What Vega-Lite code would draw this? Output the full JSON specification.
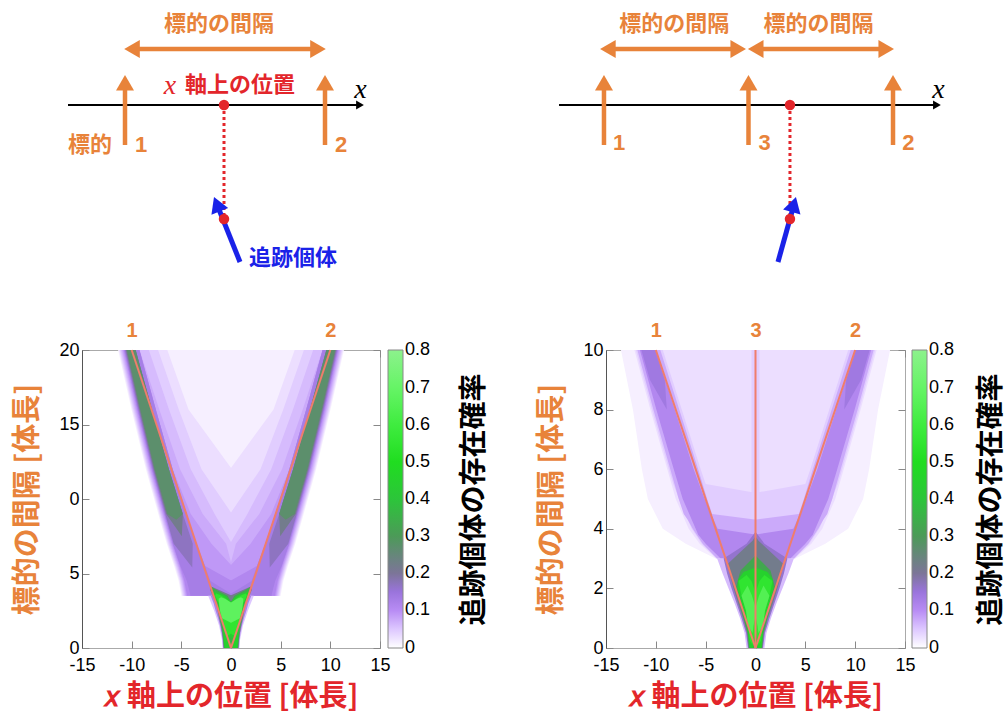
{
"$schema":"https://vega.github.io/schema/vega-lite/v6.json",
"background":"white",
"padding":{"left":13,"top":0,"right":0,"bottom":0},
"bounds":"flush",
"columns":2,
"spacing":{"row":60,"column":226},
"resolve":{"scale":{"x":"independent","y":"independent","color":"independent"}},
"config":{
 "axis":{"labelFont":"Liberation Sans","labelFontSize":18,"labelColor":"#000","tickColor":"#888","tickWidth":1,"grid":false,"domain":false,"titleFont":"Noto Sans CJK JP","titleFontWeight":"bold","titleFontSize":29,"labelFlush":false},
 "legend":{"gradientLength":298,"gradientThickness":15,"padding":0,"labelFont":"Liberation Sans","labelFontSize":18,"labelColor":"#000","labelOffset":4,"labelOverlap":false,"gradientStrokeColor":"#888","gradientStrokeWidth":1}
},
"datasets":{
"sL":[
{"k":"axis","u":-15.7,"v":0,"u2":13.3,"v2":0},
{"k":"tgt","u":-10,"v":-4,"u2":-10,"v2":2.3},
{"k":"tgt","u":10,"v":-4,"u2":10,"v2":2.3},
{"k":"gap","u":-9.4,"v":5.6,"u2":9.4,"v2":5.6},
{"k":"track","u":-0.1,"v":0,"u2":-0.1,"v2":-11.4},
{"k":"move","u":1.5,"v":-15.7,"u2":-0.78,"v2":-10.0},
{"k":"hx","u":13.5,"v":0},
{"k":"hup","u":-10,"v":2.22},{"k":"hup","u":10,"v":2.22},
{"k":"hl","u":-9.3,"v":5.6},{"k":"hr","u":9.3,"v":5.6},
{"k":"pt","u":-0.1,"v":0},{"k":"pt","u":-0.1,"v":-11.4},
{"k":"hmv","u":-0.81,"v":-9.92},
{"k":"lo","u":-8.4,"v":-4,"t":"1"},{"k":"lo","u":11.6,"v":-4,"t":"2"},{"k":"lo","u":-13.5,"v":-4,"t":"標的"},{"k":"lo","u":-0.6,"v":8.1,"t":"標的の間隔"},
{"k":"lr","u":1.5,"v":2.0,"t":"軸上の位置"},
{"k":"lxr","u":-5.5,"v":1.9,"t":"x"},
{"k":"lb","u":6.8,"v":-15.3,"t":"追跡個体"},
{"k":"lx","u":13.55,"v":1.5,"t":"x"}
],
"sR":[
{"k":"axis","u":-13.11,"v":0,"u2":12.9,"v2":0},
{"k":"tgt","u":-10,"v":-4,"u2":-10,"v2":2.3},
{"k":"tgt","u":0,"v":-4,"u2":0,"v2":2.3},
{"k":"tgt","u":10,"v":-4,"u2":10,"v2":2.3},
{"k":"gap","u":-9.73,"v":5.6,"u2":-0.71,"v2":5.6},
{"k":"gap","u":0.5,"v":5.6,"u2":9.53,"v2":5.6},
{"k":"track","u":2.87,"v":0,"u2":2.87,"v2":-11.4},
{"k":"move","u":2.04,"v":-15.7,"u2":3.14,"v2":-10.0},
{"k":"hx","u":13.04,"v":0},
{"k":"hup","u":-10,"v":2.22},{"k":"hup","u":0,"v":2.22},{"k":"hup","u":10,"v":2.22},
{"k":"hl","u":-9.73,"v":5.6},{"k":"hl","u":0.5,"v":5.6},{"k":"hr","u":-0.71,"v":5.6},{"k":"hr","u":9.53,"v":5.6},
{"k":"pt","u":2.87,"v":0},{"k":"pt","u":2.87,"v":-11.4},
{"k":"hmv","u":3.14,"v":-9.95},
{"k":"lo","u":-8.96,"v":-3.75,"t":"1"},{"k":"lo","u":1.11,"v":-3.75,"t":"3"},{"k":"lo","u":11.07,"v":-3.75,"t":"2"},
{"k":"lo","u":-5.13,"v":8.1,"t":"標的の間隔"},{"k":"lo","u":4.84,"v":8.1,"t":"標的の間隔"},
{"k":"lx","u":13.15,"v":1.5,"t":"x"}
],
"lL":[{"g":1,"x":0,"y":0},{"g":1,"x":-10,"y":20},{"g":2,"x":0,"y":0},{"g":2,"x":10,"y":20}],
"lR":[{"g":1,"x":0,"y":0},{"g":1,"x":-10,"y":10},{"g":2,"x":0,"y":0},{"g":2,"x":10,"y":10},{"g":3,"x":0,"y":0},{"g":3,"x":0,"y":10}],
"cL":[
{"g":1,"y":3.5,"a":-5.02,"b":5.02,"p":0.015},{"g":1,"y":3.6,"a":-5.02,"b":5.02,"p":0.015},{"g":1,"y":4.5,"a":-5.27,"b":5.27,"p":0.015},{"g":1,"y":5.5,"a":-5.72,"b":5.72,"p":0.015},{"g":1,"y":7,"a":-6.47,"b":6.47,"p":0.015},{"g":1,"y":9,"a":-7.32,"b":7.32,"p":0.015},{"g":1,"y":12,"a":-8.57,"b":8.57,"p":0.015},{"g":1,"y":16,"a":-10.02,"b":10.02,"p":0.015},{"g":1,"y":20,"a":-11.37,"b":11.37,"p":0.015},
{"g":2,"y":3.5,"a":-4.93,"b":0.1,"p":0.03},{"g":2,"y":3.6,"a":-4.93,"b":0.1,"p":0.03},{"g":2,"y":4.5,"a":-5.18,"b":0.1,"p":0.03},{"g":2,"y":5.5,"a":-5.63,"b":0.1,"p":0.03},{"g":2,"y":7,"a":-6.38,"b":0.1,"p":0.03},{"g":2,"y":9,"a":-7.23,"b":0.1,"p":0.03},{"g":2,"y":12,"a":-8.48,"b":0.1,"p":0.03},{"g":2,"y":16,"a":-9.93,"b":-4.28,"p":0.03},{"g":2,"y":20,"a":-11.28,"b":-6.41,"p":0.03},
{"g":3,"y":3.5,"a":-0.1,"b":4.93,"p":0.03},{"g":3,"y":3.6,"a":-0.1,"b":4.93,"p":0.03},{"g":3,"y":4.5,"a":-0.1,"b":5.18,"p":0.03},{"g":3,"y":5.5,"a":-0.1,"b":5.63,"p":0.03},{"g":3,"y":7,"a":-0.1,"b":6.38,"p":0.03},{"g":3,"y":9,"a":-0.1,"b":7.23,"p":0.03},{"g":3,"y":12,"a":-0.1,"b":8.48,"p":0.03},{"g":3,"y":16,"a":4.28,"b":9.93,"p":0.03},{"g":3,"y":20,"a":6.41,"b":11.28,"p":0.03},
{"g":4,"y":3.5,"a":-4.84,"b":0.1,"p":0.045},{"g":4,"y":3.6,"a":-4.84,"b":0.1,"p":0.045},{"g":4,"y":4.5,"a":-5.09,"b":0.1,"p":0.045},{"g":4,"y":5.5,"a":-5.54,"b":0.1,"p":0.045},{"g":4,"y":7,"a":-6.29,"b":0.1,"p":0.045},{"g":4,"y":9,"a":-7.14,"b":0.1,"p":0.045},{"g":4,"y":12,"a":-8.39,"b":-2.97,"p":0.045},{"g":4,"y":16,"a":-9.84,"b":-5.26,"p":0.045},{"g":4,"y":20,"a":-11.19,"b":-7.34,"p":0.045},
{"g":5,"y":3.5,"a":-0.1,"b":4.84,"p":0.045},{"g":5,"y":3.6,"a":-0.1,"b":4.84,"p":0.045},{"g":5,"y":4.5,"a":-0.1,"b":5.09,"p":0.045},{"g":5,"y":5.5,"a":-0.1,"b":5.54,"p":0.045},{"g":5,"y":7,"a":-0.1,"b":6.29,"p":0.045},{"g":5,"y":9,"a":-0.1,"b":7.14,"p":0.045},{"g":5,"y":12,"a":2.97,"b":8.39,"p":0.045},{"g":5,"y":16,"a":5.26,"b":9.84,"p":0.045},{"g":5,"y":20,"a":7.34,"b":11.19,"p":0.045},
{"g":6,"y":3.5,"a":-4.74,"b":0.1,"p":0.06},{"g":6,"y":3.6,"a":-4.74,"b":0.1,"p":0.06},{"g":6,"y":4.5,"a":-4.99,"b":0.1,"p":0.06},{"g":6,"y":5.5,"a":-5.44,"b":0.1,"p":0.06},{"g":6,"y":7,"a":-6.19,"b":0.1,"p":0.06},{"g":6,"y":9,"a":-7.04,"b":-1.65,"p":0.06},{"g":6,"y":12,"a":-8.29,"b":-4.05,"p":0.06},{"g":6,"y":16,"a":-9.74,"b":-6.24,"p":0.06},{"g":6,"y":20,"a":-11.09,"b":-8.27,"p":0.06},
{"g":7,"y":3.5,"a":-0.1,"b":4.74,"p":0.06},{"g":7,"y":3.6,"a":-0.1,"b":4.74,"p":0.06},{"g":7,"y":4.5,"a":-0.1,"b":4.99,"p":0.06},{"g":7,"y":5.5,"a":-0.1,"b":5.44,"p":0.06},{"g":7,"y":7,"a":-0.1,"b":6.19,"p":0.06},{"g":7,"y":9,"a":1.65,"b":7.04,"p":0.06},{"g":7,"y":12,"a":4.05,"b":8.29,"p":0.06},{"g":7,"y":16,"a":6.24,"b":9.74,"p":0.06},{"g":7,"y":20,"a":8.27,"b":11.09,"p":0.06},
{"g":8,"y":3.5,"a":-4.64,"b":0.1,"p":0.075},{"g":8,"y":3.6,"a":-4.64,"b":0.1,"p":0.075},{"g":8,"y":4.5,"a":-4.89,"b":0.1,"p":0.075},{"g":8,"y":5.5,"a":-5.34,"b":0.1,"p":0.075},{"g":8,"y":7,"a":-6.09,"b":-0.49,"p":0.075},{"g":8,"y":9,"a":-6.94,"b":-2.85,"p":0.075},{"g":8,"y":12,"a":-8.19,"b":-5.13,"p":0.075},{"g":8,"y":16,"a":-9.64,"b":-7.22,"p":0.075},{"g":8,"y":20,"a":-10.99,"b":-9.2,"p":0.075},
{"g":9,"y":3.5,"a":-0.1,"b":4.64,"p":0.075},{"g":9,"y":3.6,"a":-0.1,"b":4.64,"p":0.075},{"g":9,"y":4.5,"a":-0.1,"b":4.89,"p":0.075},{"g":9,"y":5.5,"a":-0.1,"b":5.34,"p":0.075},{"g":9,"y":7,"a":0.49,"b":6.09,"p":0.075},{"g":9,"y":9,"a":2.85,"b":6.94,"p":0.075},{"g":9,"y":12,"a":5.13,"b":8.19,"p":0.075},{"g":9,"y":16,"a":7.22,"b":9.64,"p":0.075},{"g":9,"y":20,"a":9.2,"b":10.99,"p":0.075},
{"g":10,"y":3.5,"a":-4.55,"b":0.1,"p":0.09},{"g":10,"y":3.6,"a":-4.55,"b":0.1,"p":0.09},{"g":10,"y":4.5,"a":-4.8,"b":0.1,"p":0.09},{"g":10,"y":5.5,"a":-5.25,"b":0.1,"p":0.09},{"g":10,"y":7,"a":-6.0,"b":-1.97,"p":0.09},{"g":10,"y":9,"a":-6.85,"b":-4.05,"p":0.09},{"g":10,"y":12,"a":-8.1,"b":-5.87,"p":0.09},{"g":10,"y":16,"a":-9.55,"b":-7.57,"p":0.09},{"g":10,"y":20,"a":-10.9,"b":-9.22,"p":0.09},
{"g":11,"y":3.5,"a":-0.1,"b":4.55,"p":0.09},{"g":11,"y":3.6,"a":-0.1,"b":4.55,"p":0.09},{"g":11,"y":4.5,"a":-0.1,"b":4.8,"p":0.09},{"g":11,"y":5.5,"a":-0.1,"b":5.25,"p":0.09},{"g":11,"y":7,"a":1.97,"b":6.0,"p":0.09},{"g":11,"y":9,"a":4.05,"b":6.85,"p":0.09},{"g":11,"y":12,"a":5.87,"b":8.1,"p":0.09},{"g":11,"y":16,"a":7.57,"b":9.55,"p":0.09},{"g":11,"y":20,"a":9.22,"b":10.9,"p":0.09},
{"g":12,"y":3.5,"a":-4.45,"b":0.1,"p":0.11},{"g":12,"y":3.6,"a":-4.45,"b":0.1,"p":0.11},{"g":12,"y":4.5,"a":-4.7,"b":0.1,"p":0.11},{"g":12,"y":5.5,"a":-5.15,"b":-2.6,"p":0.11},{"g":12,"y":7,"a":-5.9,"b":-3.45,"p":0.11},{"g":12,"y":9,"a":-6.75,"b":-4.47,"p":0.11},{"g":12,"y":12,"a":-8.0,"b":-5.87,"p":0.11},{"g":12,"y":16,"a":-9.45,"b":-7.57,"p":0.11},{"g":12,"y":20,"a":-10.8,"b":-9.22,"p":0.11},
{"g":13,"y":3.5,"a":-0.1,"b":4.45,"p":0.11},{"g":13,"y":3.6,"a":-0.1,"b":4.45,"p":0.11},{"g":13,"y":4.5,"a":-0.1,"b":4.7,"p":0.11},{"g":13,"y":5.5,"a":2.6,"b":5.15,"p":0.11},{"g":13,"y":7,"a":3.45,"b":5.9,"p":0.11},{"g":13,"y":9,"a":4.47,"b":6.75,"p":0.11},{"g":13,"y":12,"a":5.87,"b":8.0,"p":0.11},{"g":13,"y":16,"a":7.57,"b":9.45,"p":0.11},{"g":13,"y":20,"a":9.22,"b":10.8,"p":0.11},
{"g":14,"y":3.5,"a":-4.1,"b":0.1,"p":0.13},{"g":14,"y":3.6,"a":-4.1,"b":0.1,"p":0.13},{"g":14,"y":4.5,"a":-4.45,"b":-2.07,"p":0.13},{"g":14,"y":5.5,"a":-5.1,"b":-2.62,"p":0.13},{"g":14,"y":7,"a":-5.85,"b":-3.47,"p":0.13},{"g":14,"y":9,"a":-6.7,"b":-4.47,"p":0.13},{"g":14,"y":12,"a":-7.95,"b":-5.87,"p":0.13},{"g":14,"y":16,"a":-9.4,"b":-7.57,"p":0.13},{"g":14,"y":20,"a":-10.75,"b":-9.22,"p":0.13},
{"g":15,"y":3.5,"a":-0.1,"b":4.1,"p":0.13},{"g":15,"y":3.6,"a":-0.1,"b":4.1,"p":0.13},{"g":15,"y":4.5,"a":2.07,"b":4.45,"p":0.13},{"g":15,"y":5.5,"a":2.62,"b":5.1,"p":0.13},{"g":15,"y":7,"a":3.47,"b":5.85,"p":0.13},{"g":15,"y":9,"a":4.47,"b":6.7,"p":0.13},{"g":15,"y":12,"a":5.87,"b":7.95,"p":0.13},{"g":15,"y":16,"a":7.57,"b":9.4,"p":0.13},{"g":15,"y":20,"a":9.22,"b":10.75,"p":0.13},
{"g":16,"y":5.4,"a":-3.9,"b":-3.9,"p":0.17},{"g":16,"y":7,"a":-5.77,"b":-3.85,"p":0.17},{"g":16,"y":9,"a":-6.62,"b":-4.85,"p":0.17},{"g":16,"y":12,"a":-7.87,"b":-6.25,"p":0.17},{"g":16,"y":16,"a":-9.32,"b":-7.95,"p":0.17},{"g":16,"y":20,"a":-10.67,"b":-9.6,"p":0.17},
{"g":17,"y":5.4,"a":3.9,"b":3.9,"p":0.17},{"g":17,"y":7,"a":3.85,"b":5.77,"p":0.17},{"g":17,"y":9,"a":4.85,"b":6.62,"p":0.17},{"g":17,"y":12,"a":6.25,"b":7.87,"p":0.17},{"g":17,"y":16,"a":7.95,"b":9.32,"p":0.17},{"g":17,"y":20,"a":9.6,"b":10.67,"p":0.17},
{"g":18,"y":7.5,"a":-4.95,"b":-4.95,"p":0.22},{"g":18,"y":9,"a":-6.52,"b":-4.85,"p":0.22},{"g":18,"y":12,"a":-7.77,"b":-6.25,"p":0.22},{"g":18,"y":16,"a":-9.22,"b":-7.95,"p":0.22},{"g":18,"y":20,"a":-10.57,"b":-9.6,"p":0.22},
{"g":19,"y":7.5,"a":4.95,"b":4.95,"p":0.22},{"g":19,"y":9,"a":4.85,"b":6.52,"p":0.22},{"g":19,"y":12,"a":6.25,"b":7.77,"p":0.22},{"g":19,"y":16,"a":7.95,"b":9.22,"p":0.22},{"g":19,"y":20,"a":9.6,"b":10.57,"p":0.22},
{"g":20,"y":8.6,"a":-5.5,"b":-5.5,"p":0.27},{"g":20,"y":9,"a":-6.41,"b":-4.85,"p":0.27},{"g":20,"y":12,"a":-7.68,"b":-6.25,"p":0.27},{"g":20,"y":16,"a":-9.13,"b":-7.95,"p":0.27},{"g":20,"y":20,"a":-10.48,"b":-9.6,"p":0.27},
{"g":21,"y":8.6,"a":5.5,"b":5.5,"p":0.27},{"g":21,"y":9,"a":4.85,"b":6.41,"p":0.27},{"g":21,"y":12,"a":6.25,"b":7.68,"p":0.27},{"g":21,"y":16,"a":7.95,"b":9.13,"p":0.27},{"g":21,"y":20,"a":9.6,"b":10.48,"p":0.27},
{"g":22,"y":0,"a":-0.85,"b":0.85,"p":0.05},{"g":22,"y":0.5,"a":-0.9,"b":0.9,"p":0.05},{"g":22,"y":1,"a":-1.05,"b":1.05,"p":0.05},{"g":22,"y":1.5,"a":-1.2,"b":1.2,"p":0.05},{"g":22,"y":2,"a":-1.45,"b":1.45,"p":0.05},{"g":22,"y":2.5,"a":-1.7,"b":1.7,"p":0.05},{"g":22,"y":3,"a":-2.0,"b":2.0,"p":0.05},{"g":22,"y":3.5,"a":-2.3,"b":2.3,"p":0.05},
{"g":23,"y":0,"a":-0.8,"b":0.8,"p":0.12},{"g":23,"y":0.5,"a":-0.85,"b":0.85,"p":0.12},{"g":23,"y":1,"a":-0.95,"b":0.95,"p":0.12},{"g":23,"y":1.5,"a":-1.1,"b":1.1,"p":0.12},{"g":23,"y":2,"a":-1.3,"b":1.3,"p":0.12},{"g":23,"y":2.5,"a":-1.55,"b":1.55,"p":0.12},{"g":23,"y":3,"a":-1.75,"b":1.75,"p":0.12},{"g":23,"y":3.5,"a":-2.05,"b":2.05,"p":0.12},
{"g":24,"y":0,"a":-0.75,"b":0.1,"p":0.22},{"g":24,"y":0.5,"a":-0.8,"b":0.1,"p":0.22},{"g":24,"y":1,"a":-0.9,"b":0.1,"p":0.22},{"g":24,"y":1.5,"a":-1.03,"b":0.1,"p":0.22},{"g":24,"y":2,"a":-1.2,"b":0.1,"p":0.22},{"g":24,"y":2.5,"a":-1.35,"b":0.1,"p":0.22},{"g":24,"y":3,"a":-1.5,"b":0.1,"p":0.22},{"g":24,"y":3.5,"a":-1.85,"b":0.1,"p":0.22},{"g":24,"y":3.9,"a":-2.1,"b":-1.2,"p":0.22},{"g":24,"y":4.15,"a":-2.05,"b":-2.05,"p":0.22},
{"g":25,"y":0,"a":-0.1,"b":0.75,"p":0.22},{"g":25,"y":0.5,"a":-0.1,"b":0.8,"p":0.22},{"g":25,"y":1,"a":-0.1,"b":0.9,"p":0.22},{"g":25,"y":1.5,"a":-0.1,"b":1.03,"p":0.22},{"g":25,"y":2,"a":-0.1,"b":1.2,"p":0.22},{"g":25,"y":2.5,"a":-0.1,"b":1.35,"p":0.22},{"g":25,"y":3,"a":-0.1,"b":1.5,"p":0.22},{"g":25,"y":3.5,"a":-0.1,"b":1.85,"p":0.22},{"g":25,"y":3.9,"a":1.2,"b":2.1,"p":0.22},{"g":25,"y":4.15,"a":2.05,"b":2.05,"p":0.22},
{"g":26,"y":0,"a":-0.7,"b":0.1,"p":0.35},{"g":26,"y":0.5,"a":-0.78,"b":0.1,"p":0.35},{"g":26,"y":1,"a":-0.85,"b":0.1,"p":0.35},{"g":26,"y":1.5,"a":-0.95,"b":0.1,"p":0.35},{"g":26,"y":2,"a":-1.12,"b":0.1,"p":0.35},{"g":26,"y":2.5,"a":-1.28,"b":0.1,"p":0.35},{"g":26,"y":3,"a":-1.4,"b":0.1,"p":0.35},{"g":26,"y":3.5,"a":-1.75,"b":-0.35,"p":0.35},{"g":26,"y":3.9,"a":-2.0,"b":-1.45,"p":0.35},{"g":26,"y":4.1,"a":-1.95,"b":-1.95,"p":0.35},
{"g":27,"y":0,"a":-0.1,"b":0.7,"p":0.35},{"g":27,"y":0.5,"a":-0.1,"b":0.78,"p":0.35},{"g":27,"y":1,"a":-0.1,"b":0.85,"p":0.35},{"g":27,"y":1.5,"a":-0.1,"b":0.95,"p":0.35},{"g":27,"y":2,"a":-0.1,"b":1.12,"p":0.35},{"g":27,"y":2.5,"a":-0.1,"b":1.28,"p":0.35},{"g":27,"y":3,"a":-0.1,"b":1.4,"p":0.35},{"g":27,"y":3.5,"a":0.35,"b":1.75,"p":0.35},{"g":27,"y":3.9,"a":1.45,"b":2.0,"p":0.35},{"g":27,"y":4.1,"a":1.95,"b":1.95,"p":0.35},
{"g":28,"y":0,"a":-0.65,"b":-0.17,"p":0.45},{"g":28,"y":0.5,"a":-0.72,"b":-0.15,"p":0.45},{"g":28,"y":1,"a":-0.75,"b":0.1,"p":0.45},{"g":28,"y":1.5,"a":-0.85,"b":0.1,"p":0.45},{"g":28,"y":2,"a":-1.0,"b":0.1,"p":0.45},{"g":28,"y":2.5,"a":-1.2,"b":0.1,"p":0.45},{"g":28,"y":3,"a":-1.3,"b":0.1,"p":0.45},{"g":28,"y":3.5,"a":-1.7,"b":-0.6,"p":0.45},{"g":28,"y":3.8,"a":-1.75,"b":-1.75,"p":0.45},
{"g":29,"y":0,"a":0.17,"b":0.65,"p":0.45},{"g":29,"y":0.5,"a":0.15,"b":0.72,"p":0.45},{"g":29,"y":1,"a":-0.1,"b":0.75,"p":0.45},{"g":29,"y":1.5,"a":-0.1,"b":0.85,"p":0.45},{"g":29,"y":2,"a":-0.1,"b":1.0,"p":0.45},{"g":29,"y":2.5,"a":-0.1,"b":1.2,"p":0.45},{"g":29,"y":3,"a":-0.1,"b":1.3,"p":0.45},{"g":29,"y":3.5,"a":0.6,"b":1.7,"p":0.45},{"g":29,"y":3.8,"a":1.75,"b":1.75,"p":0.45},
{"g":30,"y":0.8,"a":-0.35,"b":-0.35,"p":0.55},{"g":30,"y":1,"a":-0.6,"b":0.1,"p":0.55},{"g":30,"y":1.5,"a":-0.75,"b":0.1,"p":0.55},{"g":30,"y":2,"a":-0.93,"b":0.1,"p":0.55},{"g":30,"y":2.5,"a":-1.12,"b":0.1,"p":0.55},{"g":30,"y":3,"a":-1.22,"b":0.1,"p":0.55},{"g":30,"y":3.5,"a":-1.6,"b":-0.95,"p":0.55},{"g":30,"y":3.65,"a":-1.5,"b":-1.5,"p":0.55},
{"g":31,"y":0.8,"a":0.35,"b":0.35,"p":0.55},{"g":31,"y":1,"a":-0.1,"b":0.6,"p":0.55},{"g":31,"y":1.5,"a":-0.1,"b":0.75,"p":0.55},{"g":31,"y":2,"a":-0.1,"b":0.93,"p":0.55},{"g":31,"y":2.5,"a":-0.1,"b":1.12,"p":0.55},{"g":31,"y":3,"a":-0.1,"b":1.22,"p":0.55},{"g":31,"y":3.5,"a":0.95,"b":1.6,"p":0.55},{"g":31,"y":3.65,"a":1.5,"b":1.5,"p":0.55},
{"g":32,"y":1.7,"a":0,"b":0,"p":0.68},{"g":32,"y":2,"a":-0.9,"b":0.1,"p":0.68},{"g":32,"y":2.5,"a":-1.1,"b":0.1,"p":0.68},{"g":32,"y":3,"a":-1.2,"b":0.1,"p":0.68},{"g":32,"y":3.3,"a":-1.25,"b":-0.6,"p":0.68},{"g":32,"y":3.4,"a":-1.0,"b":-1.0,"p":0.68},
{"g":33,"y":1.7,"a":0,"b":0,"p":0.68},{"g":33,"y":2,"a":-0.1,"b":0.9,"p":0.68},{"g":33,"y":2.5,"a":-0.1,"b":1.1,"p":0.68},{"g":33,"y":3,"a":-0.1,"b":1.2,"p":0.68},{"g":33,"y":3.3,"a":0.6,"b":1.25,"p":0.68},{"g":33,"y":3.4,"a":1.0,"b":1.0,"p":0.68}
],
"cR":[
{"g":1,"y":3,"a":-4.0,"b":4.0,"p":0.015},{"g":1,"y":3.5,"a":-7.0,"b":7.0,"p":0.015},{"g":1,"y":4,"a":-9.3,"b":9.3,"p":0.015},{"g":1,"y":5,"a":-10.8,"b":10.8,"p":0.015},{"g":1,"y":6,"a":-11.4,"b":11.4,"p":0.015},{"g":1,"y":8,"a":-12.3,"b":12.3,"p":0.015},{"g":1,"y":10,"a":-13.5,"b":13.5,"p":0.015},
{"g":2,"y":3,"a":-3.95,"b":3.95,"p":0.03},{"g":2,"y":3.5,"a":-5.6,"b":5.6,"p":0.03},{"g":2,"y":4,"a":-6.7,"b":6.7,"p":0.03},{"g":2,"y":5,"a":-8.0,"b":8.0,"p":0.03},{"g":2,"y":6,"a":-8.85,"b":8.85,"p":0.03},{"g":2,"y":8,"a":-10.55,"b":10.55,"p":0.03},{"g":2,"y":10,"a":-12.15,"b":12.15,"p":0.03},
{"g":3,"y":5.2,"a":-0.4,"b":0.4,"p":0.045},{"g":3,"y":10,"a":-0.4,"b":0.4,"p":0.045},
{"g":4,"y":3,"a":-3.9,"b":0.1,"p":0.045},{"g":4,"y":3.5,"a":-5.4,"b":0.1,"p":0.045},{"g":4,"y":4,"a":-6.4,"b":0.1,"p":0.045},{"g":4,"y":5,"a":-7.7,"b":0.1,"p":0.045},{"g":4,"y":5.2,"a":-7.9,"b":0.1,"p":0.045},{"g":4,"y":5.5,"a":-8.25,"b":-5.0,"p":0.045},{"g":4,"y":6,"a":-8.7,"b":-5.5,"p":0.045},{"g":4,"y":8,"a":-10.4,"b":-7.4,"p":0.045},{"g":4,"y":10,"a":-12.0,"b":-9.3,"p":0.045},
{"g":5,"y":3,"a":-0.1,"b":3.9,"p":0.045},{"g":5,"y":3.5,"a":-0.1,"b":5.4,"p":0.045},{"g":5,"y":4,"a":-0.1,"b":6.4,"p":0.045},{"g":5,"y":5,"a":-0.1,"b":7.7,"p":0.045},{"g":5,"y":5.2,"a":-0.1,"b":7.9,"p":0.045},{"g":5,"y":5.5,"a":5.0,"b":8.25,"p":0.045},{"g":5,"y":6,"a":5.5,"b":8.7,"p":0.045},{"g":5,"y":8,"a":7.4,"b":10.4,"p":0.045},{"g":5,"y":10,"a":9.3,"b":12.0,"p":0.045},
{"g":6,"y":3,"a":-3.85,"b":0.1,"p":0.075},{"g":6,"y":3.5,"a":-5.3,"b":0.1,"p":0.075},{"g":6,"y":4,"a":-6.3,"b":0.1,"p":0.075},{"g":6,"y":4.3,"a":-6.8,"b":0.1,"p":0.075},{"g":6,"y":4.5,"a":-7.2,"b":-4.35,"p":0.075},{"g":6,"y":5,"a":-7.7,"b":-4.85,"p":0.075},{"g":6,"y":6,"a":-8.55,"b":-5.75,"p":0.075},{"g":6,"y":8,"a":-10.25,"b":-7.65,"p":0.075},{"g":6,"y":10,"a":-11.85,"b":-9.55,"p":0.075},
{"g":7,"y":3,"a":-0.1,"b":3.85,"p":0.075},{"g":7,"y":3.5,"a":-0.1,"b":5.3,"p":0.075},{"g":7,"y":4,"a":-0.1,"b":6.3,"p":0.075},{"g":7,"y":4.3,"a":-0.1,"b":6.8,"p":0.075},{"g":7,"y":4.5,"a":4.35,"b":7.2,"p":0.075},{"g":7,"y":5,"a":4.85,"b":7.7,"p":0.075},{"g":7,"y":6,"a":5.75,"b":8.55,"p":0.075},{"g":7,"y":8,"a":7.65,"b":10.25,"p":0.075},{"g":7,"y":10,"a":9.55,"b":11.85,"p":0.075},
{"g":8,"y":3,"a":-3.5,"b":0.1,"p":0.11},{"g":8,"y":3.5,"a":-5.0,"b":0.1,"p":0.11},{"g":8,"y":3.8,"a":-5.75,"b":0.1,"p":0.11},{"g":8,"y":4,"a":-6.0,"b":-3.8,"p":0.11},{"g":8,"y":5,"a":-7.3,"b":-5.1,"p":0.11},{"g":8,"y":6,"a":-8.2,"b":-6.2,"p":0.11},{"g":8,"y":8,"a":-9.95,"b":-8.1,"p":0.11},{"g":8,"y":10,"a":-11.6,"b":-10.0,"p":0.11},
{"g":9,"y":3,"a":-0.1,"b":3.5,"p":0.11},{"g":9,"y":3.5,"a":-0.1,"b":5.0,"p":0.11},{"g":9,"y":3.8,"a":-0.1,"b":5.75,"p":0.11},{"g":9,"y":4,"a":3.8,"b":6.0,"p":0.11},{"g":9,"y":5,"a":5.1,"b":7.3,"p":0.11},{"g":9,"y":6,"a":6.2,"b":8.2,"p":0.11},{"g":9,"y":8,"a":8.1,"b":9.95,"p":0.11},{"g":9,"y":10,"a":10.0,"b":11.6,"p":0.11},
{"g":10,"y":8,"a":-8.9,"b":-8.9,"p":0.14},{"g":10,"y":9,"a":-10.6,"b":-9.1,"p":0.14},{"g":10,"y":10,"a":-11.45,"b":-10.05,"p":0.14},
{"g":11,"y":8,"a":8.9,"b":8.9,"p":0.14},{"g":11,"y":9,"a":9.1,"b":10.6,"p":0.14},{"g":11,"y":10,"a":10.05,"b":11.45,"p":0.14},
{"g":12,"y":0,"a":-0.9,"b":0.9,"p":0.06},{"g":12,"y":0.5,"a":-1.1,"b":1.1,"p":0.06},{"g":12,"y":1,"a":-1.55,"b":1.55,"p":0.06},{"g":12,"y":1.5,"a":-2.1,"b":2.1,"p":0.06},{"g":12,"y":2,"a":-2.7,"b":2.7,"p":0.06},{"g":12,"y":2.5,"a":-3.3,"b":3.3,"p":0.06},{"g":12,"y":3,"a":-3.85,"b":3.85,"p":0.06},
{"g":13,"y":0,"a":-0.75,"b":0.75,"p":0.16},{"g":13,"y":0.5,"a":-0.95,"b":0.95,"p":0.16},{"g":13,"y":1,"a":-1.4,"b":1.4,"p":0.16},{"g":13,"y":1.5,"a":-1.9,"b":1.9,"p":0.16},{"g":13,"y":2,"a":-2.4,"b":2.4,"p":0.16},{"g":13,"y":2.5,"a":-2.85,"b":2.85,"p":0.16},{"g":13,"y":3,"a":-3.2,"b":3.2,"p":0.16},{"g":13,"y":3.5,"a":-0.9,"b":0.9,"p":0.16},{"g":13,"y":3.9,"a":0,"b":0,"p":0.16},
{"g":14,"y":0,"a":-0.7,"b":0.7,"p":0.22},{"g":14,"y":0.5,"a":-0.85,"b":0.85,"p":0.22},{"g":14,"y":1,"a":-1.25,"b":1.25,"p":0.22},{"g":14,"y":1.5,"a":-1.75,"b":1.75,"p":0.22},{"g":14,"y":2,"a":-2.2,"b":2.2,"p":0.22},{"g":14,"y":2.5,"a":-2.6,"b":2.6,"p":0.22},{"g":14,"y":2.8,"a":-2.85,"b":2.85,"p":0.22},{"g":14,"y":3.2,"a":-1.6,"b":1.6,"p":0.22},{"g":14,"y":3.6,"a":-0.3,"b":0.3,"p":0.22},{"g":14,"y":3.75,"a":0,"b":0,"p":0.22},
{"g":15,"y":0,"a":-0.65,"b":0.65,"p":0.33},{"g":15,"y":0.5,"a":-0.8,"b":0.8,"p":0.33},{"g":15,"y":1,"a":-1.2,"b":1.2,"p":0.33},{"g":15,"y":1.5,"a":-1.6,"b":1.6,"p":0.33},{"g":15,"y":2,"a":-2.0,"b":2.0,"p":0.33},{"g":15,"y":2.6,"a":-1.5,"b":1.5,"p":0.33},{"g":15,"y":3.1,"a":0,"b":0,"p":0.33},
{"g":16,"y":0,"a":-0.6,"b":-0.2,"p":0.45},{"g":16,"y":0.5,"a":-0.75,"b":-0.1,"p":0.45},{"g":16,"y":1,"a":-0.95,"b":0.1,"p":0.45},{"g":16,"y":1.5,"a":-1.4,"b":0.1,"p":0.45},{"g":16,"y":2,"a":-1.8,"b":0.1,"p":0.45},{"g":16,"y":2.3,"a":-1.75,"b":0.1,"p":0.45},{"g":16,"y":2.55,"a":-1.2,"b":0.1,"p":0.45},{"g":16,"y":2.7,"a":0,"b":0,"p":0.45},
{"g":17,"y":0,"a":0.2,"b":0.6,"p":0.45},{"g":17,"y":0.5,"a":0.1,"b":0.75,"p":0.45},{"g":17,"y":1,"a":-0.1,"b":0.95,"p":0.45},{"g":17,"y":1.5,"a":-0.1,"b":1.4,"p":0.45},{"g":17,"y":2,"a":-0.1,"b":1.8,"p":0.45},{"g":17,"y":2.3,"a":-0.1,"b":1.75,"p":0.45},{"g":17,"y":2.55,"a":-0.1,"b":1.2,"p":0.45},{"g":17,"y":2.7,"a":0,"b":0,"p":0.45},
{"g":18,"y":0.1,"a":-0.3,"b":-0.3,"p":0.55},{"g":18,"y":0.25,"a":-0.55,"b":-0.2,"p":0.55},{"g":18,"y":0.75,"a":-0.75,"b":0.1,"p":0.55},{"g":18,"y":1.25,"a":-0.95,"b":0.1,"p":0.55},{"g":18,"y":1.75,"a":-1.4,"b":0.1,"p":0.55},{"g":18,"y":2.25,"a":-1.7,"b":-0.4,"p":0.55},{"g":18,"y":2.45,"a":-0.9,"b":-0.9,"p":0.55},
{"g":19,"y":0.1,"a":0.3,"b":0.3,"p":0.55},{"g":19,"y":0.25,"a":0.2,"b":0.55,"p":0.55},{"g":19,"y":0.75,"a":-0.1,"b":0.75,"p":0.55},{"g":19,"y":1.25,"a":-0.1,"b":0.95,"p":0.55},{"g":19,"y":1.75,"a":-0.1,"b":1.4,"p":0.55},{"g":19,"y":2.25,"a":0.4,"b":1.7,"p":0.55},{"g":19,"y":2.45,"a":0.9,"b":0.9,"p":0.55},
{"g":20,"y":0.5,"a":-0.3,"b":-0.3,"p":0.65},{"g":20,"y":0.75,"a":-0.75,"b":-0.2,"p":0.65},{"g":20,"y":1.25,"a":-0.95,"b":0.1,"p":0.65},{"g":20,"y":1.75,"a":-1.4,"b":-0.35,"p":0.65},{"g":20,"y":2.1,"a":-0.8,"b":-0.8,"p":0.65},
{"g":21,"y":0.5,"a":0.3,"b":0.3,"p":0.65},{"g":21,"y":0.75,"a":0.2,"b":0.75,"p":0.65},{"g":21,"y":1.25,"a":-0.1,"b":0.95,"p":0.65},{"g":21,"y":1.75,"a":0.35,"b":1.4,"p":0.65},{"g":21,"y":2.1,"a":0.8,"b":0.8,"p":0.65}
]
},
"concat":[
{
 "width":298,"height":290,"view":{"stroke":null},
 "data":{"name":"sL"},
 "encoding":{
  "x":{"field":"u","type":"quantitative","scale":{"domain":[-14.3,15.5],"nice":false,"zero":false},"axis":null},
  "y":{"field":"v","type":"quantitative","scale":{"domain":[-18.5,10.5],"nice":false,"zero":false},"axis":null}
 },
 "layer":[
  {"transform":[{"filter":"datum.k=='axis'"}],"mark":{"type":"rule","color":"#000","strokeWidth":2},"encoding":{"x2":{"field":"u2"},"y2":{"field":"v2"}}},
  {"transform":[{"filter":"datum.k=='tgt'||datum.k=='gap'"}],"mark":{"type":"rule","color":"#e8833a","strokeWidth":4.5},"encoding":{"x2":{"field":"u2"},"y2":{"field":"v2"}}},
  {"transform":[{"filter":"datum.k=='track'"}],"mark":{"type":"rule","color":"#e3262b","strokeWidth":3,"strokeDash":[3,3]},"encoding":{"x2":{"field":"u2"},"y2":{"field":"v2"}}},
  {"transform":[{"filter":"datum.k=='move'"}],"mark":{"type":"rule","color":"#1a22e8","strokeWidth":5},"encoding":{"x2":{"field":"u2"},"y2":{"field":"v2"}}},
  {"transform":[{"filter":"datum.k=='hx'"}],"mark":{"type":"point","shape":"triangle-right","filled":true,"opacity":1,"size":81,"color":"#000","strokeWidth":0}},
  {"transform":[{"filter":"datum.k=='hup'"}],"mark":{"type":"point","shape":"triangle-up","filled":true,"opacity":1,"size":324,"color":"#e8833a","strokeWidth":0}},
  {"transform":[{"filter":"datum.k=='hl'"}],"mark":{"type":"point","shape":"triangle-left","filled":true,"opacity":1,"size":324,"color":"#e8833a","strokeWidth":0}},
  {"transform":[{"filter":"datum.k=='hr'"}],"mark":{"type":"point","shape":"triangle-right","filled":true,"opacity":1,"size":324,"color":"#e8833a","strokeWidth":0}},
  {"transform":[{"filter":"datum.k=='pt'"}],"mark":{"type":"point","shape":"circle","filled":true,"opacity":1,"size":110,"color":"#e3262b","strokeWidth":0}},
  {"transform":[{"filter":"datum.k=='hmv'"}],"mark":{"type":"point","shape":"triangle-up","filled":true,"opacity":1,"size":324,"color":"#1a22e8","strokeWidth":0,"angle":-21.8}},
  {"transform":[{"filter":"datum.k=='lo'"}],"mark":{"type":"text","font":"Liberation Sans, Noto Sans CJK JP","fontWeight":"bold","fontSize":22,"color":"#e8833a","align":"center","baseline":"middle"},"encoding":{"text":{"field":"t"}}},
  {"transform":[{"filter":"datum.k=='lr'"}],"mark":{"type":"text","font":"Noto Sans CJK JP","fontWeight":"bold","fontSize":22,"color":"#e3262b","align":"center","baseline":"middle"},"encoding":{"text":{"field":"t"}}},
  {"transform":[{"filter":"datum.k=='lb'"}],"mark":{"type":"text","font":"Noto Sans CJK JP","fontWeight":"bold","fontSize":22,"color":"#1a22e8","align":"center","baseline":"middle"},"encoding":{"text":{"field":"t"}}},
  {"transform":[{"filter":"datum.k=='lx'||datum.k=='lxr'"}],"mark":{"type":"text","font":"Liberation Serif","fontStyle":"italic","fontSize":28,"align":"center","baseline":"middle"},"encoding":{"text":{"field":"t"},"color":{"field":"k","type":"nominal","scale":{"domain":["lx","lxr"],"range":["#000000","#e3262b"]},"legend":null}}}
 ]
},
{
 "width":299,"height":290,"view":{"stroke":null},
 "data":{"name":"sR"},
 "encoding":{
  "x":{"field":"u","type":"quantitative","scale":{"domain":[-9.86,10.83],"nice":false,"zero":false},"axis":null},
  "y":{"field":"v","type":"quantitative","scale":{"domain":[-18.5,10.5],"nice":false,"zero":false},"axis":null}
 },
 "layer":[
  {"transform":[{"filter":"datum.k=='axis'"}],"mark":{"type":"rule","color":"#000","strokeWidth":2},"encoding":{"x2":{"field":"u2"},"y2":{"field":"v2"}}},
  {"transform":[{"filter":"datum.k=='tgt'||datum.k=='gap'"}],"mark":{"type":"rule","color":"#e8833a","strokeWidth":4.5},"encoding":{"x2":{"field":"u2"},"y2":{"field":"v2"}}},
  {"transform":[{"filter":"datum.k=='track'"}],"mark":{"type":"rule","color":"#e3262b","strokeWidth":3,"strokeDash":[3,3]},"encoding":{"x2":{"field":"u2"},"y2":{"field":"v2"}}},
  {"transform":[{"filter":"datum.k=='move'"}],"mark":{"type":"rule","color":"#1a22e8","strokeWidth":5},"encoding":{"x2":{"field":"u2"},"y2":{"field":"v2"}}},
  {"transform":[{"filter":"datum.k=='hx'"}],"mark":{"type":"point","shape":"triangle-right","filled":true,"opacity":1,"size":81,"color":"#000","strokeWidth":0}},
  {"transform":[{"filter":"datum.k=='hup'"}],"mark":{"type":"point","shape":"triangle-up","filled":true,"opacity":1,"size":324,"color":"#e8833a","strokeWidth":0}},
  {"transform":[{"filter":"datum.k=='hl'"}],"mark":{"type":"point","shape":"triangle-left","filled":true,"opacity":1,"size":324,"color":"#e8833a","strokeWidth":0}},
  {"transform":[{"filter":"datum.k=='hr'"}],"mark":{"type":"point","shape":"triangle-right","filled":true,"opacity":1,"size":324,"color":"#e8833a","strokeWidth":0}},
  {"transform":[{"filter":"datum.k=='pt'"}],"mark":{"type":"point","shape":"circle","filled":true,"opacity":1,"size":110,"color":"#e3262b","strokeWidth":0}},
  {"transform":[{"filter":"datum.k=='hmv'"}],"mark":{"type":"point","shape":"triangle-up","filled":true,"opacity":1,"size":324,"color":"#1a22e8","strokeWidth":0,"angle":15.5}},
  {"transform":[{"filter":"datum.k=='lo'"}],"mark":{"type":"text","font":"Liberation Sans, Noto Sans CJK JP","fontWeight":"bold","fontSize":22,"color":"#e8833a","align":"center","baseline":"middle"},"encoding":{"text":{"field":"t"}}},
  {"transform":[{"filter":"datum.k=='lx'"}],"mark":{"type":"text","font":"Liberation Serif","fontStyle":"italic","fontSize":28,"color":"#000","align":"center","baseline":"middle"},"encoding":{"text":{"field":"t"}}}
 ]
},
{
 "width":298,"height":298,"view":{"stroke":"#aaa","strokeWidth":1},
 "resolve":{"axis":{"x":"independent","y":"independent"}},
 "layer":[
  {"data":{"name":"cL"},"mark":{"type":"area","orient":"horizontal","strokeWidth":0},
   "encoding":{
    "y":{"field":"y","type":"quantitative","scale":{"domain":[0,20],"nice":false,"zero":false},"axis":{"orient":"left","values":[0,5,10,15,20],"labelExpr":"datum.value==10?'0':''+datum.value","tickSize":-7,"labelPadding":10,"title":"標的の間隔 [体長]","titleColor":"#e8833a","titlePadding":16,"domain":true,"domainColor":"#555"}},
    "x":{"field":"a","type":"quantitative","scale":{"domain":[-15,15],"nice":false,"zero":false},"axis":{"orient":"bottom","values":[-15,-10,-5,0,5,10,15],"labelExpr":"''+datum.value","tickSize":-7,"labelPadding":15,"title":"𝑥 軸上の位置 [体長]","titleColor":"#e3262b","titlePadding":8}},
    "x2":{"field":"b"},
    "detail":{"field":"g"},
    "color":{"field":"p","type":"quantitative","scale":{"type":"linear","domain":[-0.001,0.02,0.05,0.1,0.15,0.2,0.25,0.3,0.4,0.5,0.6,0.7,0.801],"range":["#ffffff","#f3eaff","#ddc7ff","#b88cf4","#9a74dc","#7c7598","#66877a","#4c9a58","#2cc53a","#20dd20","#3fec3f","#66f466","#8cf28c"],"interpolate":"rgb"},"legend":{"type":"gradient","direction":"vertical","orient":"none","legendX":306,"legendY":0,"title":null,"values":[0,0.1,0.2,0.3,0.4,0.5,0.6,0.7,0.8],"labelExpr":"''+datum.value"}}
   }},
  {"data":{"name":"lL"},"mark":{"type":"line","color":"#f07d6b","strokeWidth":2},
   "encoding":{
    "x":{"field":"x","type":"quantitative","axis":{"orient":"top","values":[-15,-10,-5,0,5,10,15],"tickSize":-7,"labelExpr":"datum.value==-10?'1':datum.value==10?'2':''","labelColor":"#e8833a","labelFontWeight":"bold","labelFontSize":20,"labelPadding":17,"title":null}},
    "y":{"field":"y","type":"quantitative","axis":{"orient":"right","values":[0,5,10,15,20],"tickSize":-7,"labels":false,"title":"追跡個体の存在確率","titleColor":"#000","titleFontSize":28,"titleAngle":270,"titleBaseline":"top","titlePadding":80}},
    "detail":{"field":"g"}
   }}
 ]
},
{
 "width":299,"height":298,"view":{"stroke":"#aaa","strokeWidth":1},
 "resolve":{"axis":{"x":"independent","y":"independent"}},
 "layer":[
  {"data":{"name":"cR"},"mark":{"type":"area","orient":"horizontal","strokeWidth":0},
   "encoding":{
    "y":{"field":"y","type":"quantitative","scale":{"domain":[0,10],"nice":false,"zero":false},"axis":{"orient":"left","values":[0,2,4,6,8,10],"labelExpr":"''+datum.value","tickSize":-7,"labelPadding":10,"title":"標的の間隔 [体長]","titleColor":"#e8833a","titlePadding":16,"domain":true,"domainColor":"#555"}},
    "x":{"field":"a","type":"quantitative","scale":{"domain":[-15,15],"nice":false,"zero":false},"axis":{"orient":"bottom","values":[-15,-10,-5,0,5,10,15],"labelExpr":"''+datum.value","tickSize":-7,"labelPadding":15,"title":"𝑥 軸上の位置 [体長]","titleColor":"#e3262b","titlePadding":8}},
    "x2":{"field":"b"},
    "detail":{"field":"g"},
    "color":{"field":"p","type":"quantitative","scale":{"type":"linear","domain":[-0.001,0.02,0.05,0.1,0.15,0.2,0.25,0.3,0.4,0.5,0.6,0.7,0.801],"range":["#ffffff","#f3eaff","#ddc7ff","#b88cf4","#9a74dc","#7c7598","#66877a","#4c9a58","#2cc53a","#20dd20","#3fec3f","#66f466","#8cf28c"],"interpolate":"rgb"},"legend":{"type":"gradient","direction":"vertical","orient":"none","legendX":306,"legendY":0,"title":null,"values":[0,0.1,0.2,0.3,0.4,0.5,0.6,0.7,0.8],"labelExpr":"''+datum.value"}}
   }},
  {"data":{"name":"lR"},"mark":{"type":"line","color":"#f07d6b","strokeWidth":2},
   "encoding":{
    "x":{"field":"x","type":"quantitative","axis":{"orient":"top","values":[-15,-10,-5,0,5,10,15],"tickSize":-7,"labelExpr":"datum.value==-10?'1':datum.value==0?'3':datum.value==10?'2':''","labelColor":"#e8833a","labelFontWeight":"bold","labelFontSize":20,"labelPadding":17,"title":null}},
    "y":{"field":"y","type":"quantitative","axis":{"orient":"right","values":[0,2,4,6,8,10],"tickSize":-7,"labels":false,"title":"追跡個体の存在確率","titleColor":"#000","titleFontSize":28,"titleAngle":270,"titleBaseline":"top","titlePadding":72}},
    "detail":{"field":"g"}
   }}
 ]
}
]
}
